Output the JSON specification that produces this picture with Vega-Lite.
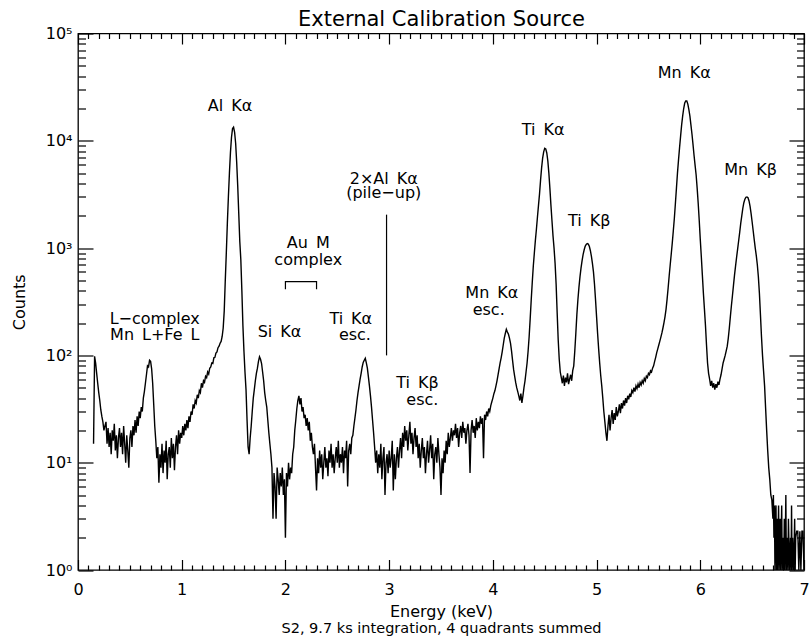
{
  "$schema": "https://vega.github.io/schema/vega-lite/v6.json",
  "width": 726,
  "height": 536.5,
  "autosize": "none",
  "padding": {"left": 78, "top": 33.5, "right": 5, "bottom": 74},
  "background": "white",
  "config": {
    "view": {"stroke": "black", "strokeWidth": 1.3},
    "axis": {"grid": false, "domain": false, "tickColor": "black", "tickWidth": 1.2, "labelColor": "black", "labelFont": "DejaVu Sans", "labelFontSize": 16, "titleFont": "DejaVu Sans", "titleFontSize": 16, "titleFontWeight": "normal", "titleColor": "black", "labelOverlap": false, "labelFlush": false, "labelBound": false}
  },
  "datasets": {
    "spectrum": [
      {"e":0.15,"c":15},{"e":0.16,"c":98},{"e":0.17,"c":85},{"e":0.18,"c":68},{"e":0.19,"c":55},{"e":0.20,"c":45},{"e":0.21,"c":38},{"e":0.22,"c":31},{"e":0.23,"c":27},{"e":0.24,"c":24},
      {"e":0.25,"c":20},{"e":0.26,"c":22},{"e":0.27,"c":24},{"e":0.28,"c":15},{"e":0.29,"c":21},{"e":0.30,"c":14},{"e":0.31,"c":19},{"e":0.32,"c":12},{"e":0.33,"c":20},{"e":0.34,"c":16},
      {"e":0.35,"c":23},{"e":0.36,"c":13},{"e":0.37,"c":18},{"e":0.38,"c":11},{"e":0.39,"c":17},{"e":0.40,"c":21},{"e":0.41,"c":14},{"e":0.42,"c":19},{"e":0.43,"c":12},{"e":0.44,"c":22},
      {"e":0.45,"c":15},{"e":0.46,"c":10},{"e":0.47,"c":18},{"e":0.48,"c":13},{"e":0.49,"c":9},{"e":0.50,"c":17},{"e":0.51,"c":20},{"e":0.52,"c":14},{"e":0.53,"c":22},{"e":0.54,"c":18},
      {"e":0.55,"c":25},{"e":0.56,"c":19},{"e":0.57,"c":27},{"e":0.58,"c":22},{"e":0.59,"c":30},{"e":0.60,"c":26},{"e":0.61,"c":33},{"e":0.62,"c":30},{"e":0.63,"c":40},{"e":0.64,"c":46},
      {"e":0.65,"c":55},{"e":0.66,"c":66},{"e":0.67,"c":80},{"e":0.68,"c":78},{"e":0.69,"c":90},{"e":0.70,"c":88},{"e":0.71,"c":75},{"e":0.72,"c":55},{"e":0.73,"c":35},{"e":0.74,"c":22},
      {"e":0.75,"c":16},{"e":0.76,"c":11},{"e":0.77,"c":14},{"e":0.78,"c":6.5},{"e":0.79,"c":12},{"e":0.80,"c":9},{"e":0.81,"c":15},{"e":0.82,"c":8},{"e":0.83,"c":13},{"e":0.84,"c":10},
      {"e":0.85,"c":16},{"e":0.86,"c":7},{"e":0.87,"c":12},{"e":0.88,"c":14},{"e":0.89,"c":9},{"e":0.90,"c":17},{"e":0.91,"c":11},{"e":0.92,"c":15},{"e":0.93,"c":8.5},{"e":0.94,"c":14},
      {"e":0.95,"c":18},{"e":0.96,"c":12},{"e":0.97,"c":20},{"e":0.98,"c":15},{"e":0.99,"c":19},{"e":1.00,"c":17},{"e":1.01,"c":22},{"e":1.02,"c":18},{"e":1.03,"c":23},{"e":1.04,"c":20},
      {"e":1.05,"c":25},{"e":1.06,"c":21},{"e":1.07,"c":27},{"e":1.08,"c":24},{"e":1.09,"c":30},{"e":1.10,"c":28},{"e":1.11,"c":35},{"e":1.12,"c":32},{"e":1.13,"c":38},{"e":1.14,"c":36},
      {"e":1.15,"c":43},{"e":1.16,"c":40},{"e":1.17,"c":47},{"e":1.18,"c":45},{"e":1.19,"c":55},{"e":1.20,"c":50},{"e":1.21,"c":58},{"e":1.22,"c":56},{"e":1.23,"c":64},{"e":1.24,"c":62},
      {"e":1.25,"c":70},{"e":1.26,"c":67},{"e":1.27,"c":76},{"e":1.28,"c":78},{"e":1.29,"c":85},{"e":1.30,"c":84},{"e":1.31,"c":95},{"e":1.32,"c":96},{"e":1.33,"c":105},{"e":1.34,"c":108},
      {"e":1.35,"c":118},{"e":1.36,"c":122},{"e":1.37,"c":130},{"e":1.38,"c":135},{"e":1.39,"c":150},{"e":1.40,"c":180},{"e":1.41,"c":260},{"e":1.42,"c":500},{"e":1.43,"c":900},{"e":1.44,"c":1700},
      {"e":1.45,"c":3000},{"e":1.46,"c":5000},{"e":1.47,"c":7800},{"e":1.48,"c":10800},{"e":1.49,"c":13000},{"e":1.50,"c":13400},{"e":1.51,"c":12000},{"e":1.52,"c":9500},{"e":1.53,"c":6300},{"e":1.54,"c":3800},
      {"e":1.55,"c":2100},{"e":1.56,"c":1150},{"e":1.57,"c":780},{"e":1.58,"c":400},{"e":1.59,"c":190},{"e":1.60,"c":110},{"e":1.61,"c":70},{"e":1.62,"c":48},{"e":1.63,"c":25},{"e":1.64,"c":14},
      {"e":1.65,"c":12},{"e":1.66,"c":17},{"e":1.67,"c":22},{"e":1.68,"c":30},{"e":1.69,"c":40},{"e":1.70,"c":48},{"e":1.71,"c":58},{"e":1.72,"c":68},{"e":1.73,"c":76},{"e":1.74,"c":88},
      {"e":1.75,"c":97},{"e":1.76,"c":92},{"e":1.77,"c":84},{"e":1.78,"c":70},{"e":1.79,"c":58},{"e":1.80,"c":45},{"e":1.81,"c":38},{"e":1.82,"c":33},{"e":1.83,"c":25},{"e":1.84,"c":19},
      {"e":1.85,"c":15},{"e":1.86,"c":12},{"e":1.87,"c":9},{"e":1.88,"c":3},{"e":1.89,"c":8},{"e":1.90,"c":6},{"e":1.91,"c":3},{"e":1.92,"c":9},{"e":1.93,"c":7},{"e":1.94,"c":5},
      {"e":1.95,"c":8},{"e":1.96,"c":6},{"e":1.97,"c":9},{"e":1.98,"c":5},{"e":1.99,"c":7},{"e":2.00,"c":2},{"e":2.01,"c":8},{"e":2.02,"c":6},{"e":2.03,"c":10},{"e":2.04,"c":7},
      {"e":2.05,"c":9},{"e":2.06,"c":8},{"e":2.07,"c":12},{"e":2.08,"c":14},{"e":2.09,"c":20},{"e":2.10,"c":25},{"e":2.11,"c":32},{"e":2.12,"c":38},{"e":2.13,"c":42},{"e":2.14,"c":35},
      {"e":2.15,"c":40},{"e":2.16,"c":30},{"e":2.17,"c":33},{"e":2.18,"c":26},{"e":2.19,"c":28},{"e":2.20,"c":22},{"e":2.21,"c":26},{"e":2.22,"c":20},{"e":2.23,"c":24},{"e":2.24,"c":16},
      {"e":2.25,"c":19},{"e":2.26,"c":14},{"e":2.27,"c":12},{"e":2.28,"c":15},{"e":2.29,"c":9},{"e":2.30,"c":5.5},{"e":2.31,"c":11},{"e":2.32,"c":8},{"e":2.33,"c":13},{"e":2.34,"c":9},
      {"e":2.35,"c":12},{"e":2.36,"c":7},{"e":2.37,"c":10},{"e":2.38,"c":14},{"e":2.39,"c":9},{"e":2.40,"c":11},{"e":2.41,"c":7.5},{"e":2.42,"c":13},{"e":2.43,"c":10},{"e":2.44,"c":15},
      {"e":2.45,"c":9},{"e":2.46,"c":12},{"e":2.47,"c":8},{"e":2.48,"c":11},{"e":2.49,"c":14},{"e":2.50,"c":10},{"e":2.51,"c":16},{"e":2.52,"c":9},{"e":2.53,"c":12},{"e":2.54,"c":10},
      {"e":2.55,"c":14},{"e":2.56,"c":8},{"e":2.57,"c":13},{"e":2.58,"c":11},{"e":2.59,"c":16},{"e":2.60,"c":6},{"e":2.61,"c":13},{"e":2.62,"c":15},{"e":2.63,"c":12},{"e":2.64,"c":17},
      {"e":2.65,"c":18},{"e":2.66,"c":22},{"e":2.67,"c":26},{"e":2.68,"c":31},{"e":2.69,"c":38},{"e":2.70,"c":45},{"e":2.71,"c":52},{"e":2.72,"c":60},{"e":2.73,"c":68},{"e":2.74,"c":78},
      {"e":2.75,"c":86},{"e":2.76,"c":90},{"e":2.77,"c":94},{"e":2.78,"c":85},{"e":2.79,"c":76},{"e":2.80,"c":63},{"e":2.81,"c":52},{"e":2.82,"c":42},{"e":2.83,"c":33},{"e":2.84,"c":25},
      {"e":2.85,"c":19},{"e":2.86,"c":14},{"e":2.87,"c":10},{"e":2.88,"c":13},{"e":2.89,"c":8},{"e":2.90,"c":12},{"e":2.91,"c":9},{"e":2.92,"c":15},{"e":2.93,"c":7},{"e":2.94,"c":11},
      {"e":2.95,"c":14},{"e":2.96,"c":5},{"e":2.97,"c":10},{"e":2.98,"c":12},{"e":2.99,"c":8},{"e":3.00,"c":13},{"e":3.01,"c":9},{"e":3.02,"c":11},{"e":3.03,"c":16},{"e":3.04,"c":5.5},
      {"e":3.05,"c":12},{"e":3.06,"c":7},{"e":3.07,"c":11},{"e":3.08,"c":14},{"e":3.09,"c":9},{"e":3.10,"c":13},{"e":3.11,"c":17},{"e":3.12,"c":11},{"e":3.13,"c":19},{"e":3.14,"c":14},
      {"e":3.15,"c":22},{"e":3.16,"c":16},{"e":3.17,"c":20},{"e":3.18,"c":13},{"e":3.19,"c":18},{"e":3.20,"c":24},{"e":3.21,"c":15},{"e":3.22,"c":19},{"e":3.23,"c":12},{"e":3.24,"c":17},
      {"e":3.25,"c":21},{"e":3.26,"c":14},{"e":3.27,"c":18},{"e":3.28,"c":11},{"e":3.29,"c":15},{"e":3.30,"c":9},{"e":3.31,"c":13},{"e":3.32,"c":17},{"e":3.33,"c":11},{"e":3.34,"c":14},
      {"e":3.35,"c":8},{"e":3.36,"c":12},{"e":3.37,"c":16},{"e":3.38,"c":10},{"e":3.39,"c":13},{"e":3.40,"c":18},{"e":3.41,"c":11},{"e":3.42,"c":15},{"e":3.43,"c":7},{"e":3.44,"c":12},
      {"e":3.45,"c":14},{"e":3.46,"c":10},{"e":3.47,"c":17},{"e":3.48,"c":12},{"e":3.49,"c":9},{"e":3.50,"c":5},{"e":3.51,"c":11},{"e":3.52,"c":8},{"e":3.53,"c":13},{"e":3.54,"c":10},
      {"e":3.55,"c":16},{"e":3.56,"c":12},{"e":3.57,"c":19},{"e":3.58,"c":14},{"e":3.59,"c":17},{"e":3.60,"c":21},{"e":3.61,"c":16},{"e":3.62,"c":20},{"e":3.63,"c":18},{"e":3.64,"c":23},
      {"e":3.65,"c":17},{"e":3.66,"c":21},{"e":3.67,"c":14},{"e":3.68,"c":19},{"e":3.69,"c":22},{"e":3.70,"c":17},{"e":3.71,"c":24},{"e":3.72,"c":19},{"e":3.73,"c":21},{"e":3.74,"c":15},
      {"e":3.75,"c":20},{"e":3.76,"c":23},{"e":3.77,"c":18},{"e":3.78,"c":8},{"e":3.79,"c":20},{"e":3.80,"c":25},{"e":3.81,"c":19},{"e":3.82,"c":22},{"e":3.83,"c":17},{"e":3.84,"c":26},
      {"e":3.85,"c":20},{"e":3.86,"c":24},{"e":3.87,"c":21},{"e":3.88,"c":27},{"e":3.89,"c":23},{"e":3.90,"c":26},{"e":3.91,"c":11},{"e":3.92,"c":28},{"e":3.93,"c":25},{"e":3.94,"c":30},
      {"e":3.95,"c":27},{"e":3.96,"c":32},{"e":3.97,"c":30},{"e":3.98,"c":34},{"e":3.99,"c":37},{"e":4.00,"c":40},{"e":4.01,"c":44},{"e":4.02,"c":47},{"e":4.03,"c":52},{"e":4.04,"c":58},
      {"e":4.05,"c":66},{"e":4.06,"c":75},{"e":4.07,"c":85},{"e":4.08,"c":95},{"e":4.09,"c":108},{"e":4.10,"c":125},{"e":4.11,"c":145},{"e":4.12,"c":160},{"e":4.13,"c":175},{"e":4.14,"c":165},
      {"e":4.15,"c":158},{"e":4.16,"c":145},{"e":4.17,"c":130},{"e":4.18,"c":110},{"e":4.19,"c":90},{"e":4.20,"c":74},{"e":4.21,"c":64},{"e":4.22,"c":56},{"e":4.23,"c":50},{"e":4.24,"c":46},
      {"e":4.25,"c":42},{"e":4.26,"c":38},{"e":4.27,"c":44},{"e":4.28,"c":36},{"e":4.29,"c":42},{"e":4.30,"c":50},{"e":4.31,"c":58},{"e":4.32,"c":70},{"e":4.33,"c":85},{"e":4.34,"c":110},
      {"e":4.35,"c":150},{"e":4.36,"c":220},{"e":4.37,"c":330},{"e":4.38,"c":480},{"e":4.39,"c":680},{"e":4.40,"c":900},{"e":4.41,"c":1180},{"e":4.42,"c":1500},{"e":4.43,"c":1950},{"e":4.44,"c":2500},
      {"e":4.45,"c":3200},{"e":4.46,"c":4300},{"e":4.47,"c":5600},{"e":4.48,"c":6900},{"e":4.49,"c":7900},{"e":4.50,"c":8500},{"e":4.51,"c":8400},{"e":4.52,"c":7700},{"e":4.53,"c":6500},{"e":4.54,"c":5000},
      {"e":4.55,"c":3600},{"e":4.56,"c":2500},{"e":4.57,"c":1800},{"e":4.58,"c":1300},{"e":4.59,"c":1000},{"e":4.60,"c":720},{"e":4.61,"c":460},{"e":4.62,"c":250},{"e":4.63,"c":140},{"e":4.64,"c":92},
      {"e":4.65,"c":70},{"e":4.66,"c":62},{"e":4.67,"c":55},{"e":4.68,"c":65},{"e":4.69,"c":52},{"e":4.70,"c":62},{"e":4.71,"c":56},{"e":4.72,"c":68},{"e":4.73,"c":54},{"e":4.74,"c":60},
      {"e":4.75,"c":66},{"e":4.76,"c":58},{"e":4.77,"c":72},{"e":4.78,"c":80},{"e":4.79,"c":110},{"e":4.80,"c":160},{"e":4.81,"c":240},{"e":4.82,"c":330},{"e":4.83,"c":430},{"e":4.84,"c":540},
      {"e":4.85,"c":650},{"e":4.86,"c":760},{"e":4.87,"c":870},{"e":4.88,"c":960},{"e":4.89,"c":1040},{"e":4.90,"c":1080},{"e":4.91,"c":1100},{"e":4.92,"c":1090},{"e":4.93,"c":1040},{"e":4.94,"c":950},
      {"e":4.95,"c":840},{"e":4.96,"c":720},{"e":4.97,"c":600},{"e":4.98,"c":460},{"e":4.99,"c":330},{"e":5.00,"c":230},{"e":5.01,"c":160},{"e":5.02,"c":115},{"e":5.03,"c":85},{"e":5.04,"c":65},
      {"e":5.05,"c":52},{"e":5.06,"c":40},{"e":5.07,"c":30},{"e":5.08,"c":24},{"e":5.09,"c":19},{"e":5.10,"c":16},{"e":5.11,"c":22},{"e":5.12,"c":28},{"e":5.13,"c":20},{"e":5.14,"c":26},
      {"e":5.15,"c":31},{"e":5.16,"c":23},{"e":5.17,"c":29},{"e":5.18,"c":25},{"e":5.19,"c":33},{"e":5.20,"c":27},{"e":5.21,"c":30},{"e":5.22,"c":35},{"e":5.23,"c":29},{"e":5.24,"c":36},
      {"e":5.25,"c":32},{"e":5.26,"c":38},{"e":5.27,"c":34},{"e":5.28,"c":40},{"e":5.29,"c":36},{"e":5.30,"c":42},{"e":5.31,"c":39},{"e":5.32,"c":44},{"e":5.33,"c":41},{"e":5.34,"c":47},
      {"e":5.35,"c":45},{"e":5.36,"c":50},{"e":5.37,"c":46},{"e":5.38,"c":52},{"e":5.39,"c":49},{"e":5.40,"c":54},{"e":5.41,"c":50},{"e":5.42,"c":56},{"e":5.43,"c":53},{"e":5.44,"c":58},
      {"e":5.45,"c":55},{"e":5.46,"c":61},{"e":5.47,"c":58},{"e":5.48,"c":64},{"e":5.49,"c":62},{"e":5.50,"c":68},{"e":5.51,"c":66},{"e":5.52,"c":72},{"e":5.53,"c":70},{"e":5.54,"c":76},
      {"e":5.55,"c":80},{"e":5.56,"c":88},{"e":5.57,"c":96},{"e":5.58,"c":106},{"e":5.59,"c":115},{"e":5.60,"c":125},{"e":5.61,"c":136},{"e":5.62,"c":148},{"e":5.63,"c":162},{"e":5.64,"c":180},
      {"e":5.65,"c":202},{"e":5.66,"c":230},{"e":5.67,"c":270},{"e":5.68,"c":335},{"e":5.69,"c":425},{"e":5.70,"c":550},{"e":5.71,"c":700},{"e":5.72,"c":880},{"e":5.73,"c":1120},{"e":5.74,"c":1450},
      {"e":5.75,"c":1900},{"e":5.76,"c":2600},{"e":5.77,"c":3600},{"e":5.78,"c":5000},{"e":5.79,"c":6600},{"e":5.80,"c":8600},{"e":5.81,"c":11000},{"e":5.82,"c":14000},{"e":5.83,"c":17000},{"e":5.84,"c":20000},
      {"e":5.85,"c":22500},{"e":5.86,"c":23500},{"e":5.87,"c":23500},{"e":5.88,"c":22000},{"e":5.89,"c":19500},{"e":5.90,"c":17000},{"e":5.91,"c":14000},{"e":5.92,"c":11500},{"e":5.93,"c":9200},{"e":5.94,"c":7300},
      {"e":5.95,"c":5900},{"e":5.96,"c":4800},{"e":5.97,"c":3600},{"e":5.98,"c":2600},{"e":5.99,"c":1800},{"e":6.00,"c":1200},{"e":6.01,"c":830},{"e":6.02,"c":560},{"e":6.03,"c":380},{"e":6.04,"c":270},
      {"e":6.05,"c":190},{"e":6.06,"c":125},{"e":6.07,"c":85},{"e":6.08,"c":68},{"e":6.09,"c":60},{"e":6.10,"c":52},{"e":6.11,"c":58},{"e":6.12,"c":50},{"e":6.13,"c":55},{"e":6.14,"c":48},
      {"e":6.15,"c":54},{"e":6.16,"c":50},{"e":6.17,"c":57},{"e":6.18,"c":53},{"e":6.19,"c":60},{"e":6.20,"c":66},{"e":6.21,"c":75},{"e":6.22,"c":85},{"e":6.23,"c":92},{"e":6.24,"c":100},
      {"e":6.25,"c":110},{"e":6.26,"c":122},{"e":6.27,"c":145},{"e":6.28,"c":180},{"e":6.29,"c":230},{"e":6.30,"c":290},{"e":6.31,"c":360},{"e":6.32,"c":450},{"e":6.33,"c":560},{"e":6.34,"c":680},
      {"e":6.35,"c":820},{"e":6.36,"c":980},{"e":6.37,"c":1170},{"e":6.38,"c":1400},{"e":6.39,"c":1700},{"e":6.40,"c":2000},{"e":6.41,"c":2350},{"e":6.42,"c":2650},{"e":6.43,"c":2850},{"e":6.44,"c":2980},
      {"e":6.45,"c":3000},{"e":6.46,"c":2950},{"e":6.47,"c":2750},{"e":6.48,"c":2450},{"e":6.49,"c":2100},{"e":6.50,"c":1750},{"e":6.51,"c":1450},{"e":6.52,"c":1200},{"e":6.53,"c":1000},{"e":6.54,"c":850},
      {"e":6.55,"c":700},{"e":6.56,"c":540},{"e":6.57,"c":380},{"e":6.58,"c":240},{"e":6.59,"c":150},{"e":6.60,"c":100},{"e":6.61,"c":72},{"e":6.62,"c":52},{"e":6.63,"c":32},{"e":6.64,"c":20},
      {"e":6.65,"c":13},{"e":6.66,"c":9},{"e":6.67,"c":7},{"e":6.68,"c":5},{"e":6.69,"c":4.5},{"e":6.70,"c":3},{"e":6.705,"c":5},{"e":6.71,"c":2},{"e":6.715,"c":4},{"e":6.72,"c":1},
      {"e":6.725,"c":3},{"e":6.73,"c":4},{"e":6.735,"c":1},{"e":6.74,"c":3},{"e":6.745,"c":1},{"e":6.75,"c":2},{"e":6.755,"c":4},{"e":6.76,"c":1},{"e":6.77,"c":3},{"e":6.775,"c":1},
      {"e":6.78,"c":2},{"e":6.785,"c":4},{"e":6.79,"c":1},{"e":6.80,"c":2},{"e":6.805,"c":1},{"e":6.81,"c":3},{"e":6.815,"c":1},{"e":6.82,"c":2},{"e":6.825,"c":5},{"e":6.83,"c":1},
      {"e":6.84,"c":2},{"e":6.845,"c":1},{"e":6.85,"c":3},{"e":6.86,"c":1},{"e":6.87,"c":2},{"e":6.875,"c":1},{"e":6.88,"c":4},{"e":6.885,"c":1},{"e":6.89,"c":2},{"e":6.90,"c":1},
      {"e":6.91,"c":3},{"e":6.915,"c":1},{"e":6.92,"c":2},{"e":6.93,"c":2.3},{"e":6.94,"c":2.3},{"e":6.95,"c":1},{"e":6.96,"c":2.3},{"e":6.97,"c":1},{"e":6.98,"c":2.3},{"e":6.99,"c":2.3},
      {"e":7.0,"c":1}
    ],
    "labels": [
      {"label":"Al\u2002K\u03b1","e":1.466,"c":19000},
      {"label":"Ti\u2002K\u03b1","e":4.484,"c":11300},
      {"label":"Ti\u2002K\u03b2","e":4.93,"c":1610},
      {"label":"Mn\u2002K\u03b1","e":5.845,"c":38200},
      {"label":"Mn\u2002K\u03b2","e":6.485,"c":4800},
      {"label":"L\u2212complex","e":0.74,"c":196},
      {"label":"Mn\u2002L+Fe\u2002L","e":0.74,"c":139},
      {"label":"Si\u2002K\u03b1","e":1.943,"c":149},
      {"label":"Au\u2002M","e":2.22,"c":992},
      {"label":"complex","e":2.22,"c":695},
      {"label":"Ti\u2002K\u03b1","e":2.63,"c":196},
      {"label":"esc.","e":2.67,"c":139},
      {"label":"2\u00d7Al\u2002K\u03b1","e":2.948,"c":3970},
      {"label":"(pile\u2212up)","e":2.948,"c":2920},
      {"label":"Ti\u2002K\u03b2","e":3.274,"c":49.7},
      {"label":"esc.","e":3.32,"c":34.5},
      {"label":"Mn\u2002K\u03b1","e":3.99,"c":340},
      {"label":"esc.","e":3.96,"c":238}
    ],
    "bracket": [
      {"e":2.0,"c":413,"o":0},{"e":2.0,"c":486,"o":1},{"e":2.3,"c":486,"o":2},{"e":2.3,"c":413,"o":3}
    ],
    "pileup": [
      {"e":2.975,"c0":100,"c1":2050}
    ]
  },
  "layer": [
    {
      "data": {"name": "spectrum"},
      "mark": {"type": "line", "color": "black", "strokeWidth": 1.4, "clip": true},
      "encoding": {
        "x": {"field": "e", "type": "quantitative", "scale": {"domain": [0, 7], "nice": false, "zero": false},
          "axis": {"orient": "bottom", "values": [0,0.1,0.2,0.3,0.4,0.5,0.6,0.7,0.8,0.9,1,1.1,1.2,1.3,1.4,1.5,1.6,1.7,1.8,1.9,2,2.1,2.2,2.3,2.4,2.5,2.6,2.7,2.8,2.9,3,3.1,3.2,3.3,3.4,3.5,3.6,3.7,3.8,3.9,4,4.1,4.2,4.3,4.4,4.5,4.6,4.7,4.8,4.9,5,5.1,5.2,5.3,5.4,5.5,5.6,5.7,5.8,5.9,6,6.1,6.2,6.3,6.4,6.5,6.6,6.7,6.8,6.9,7],
            "labelExpr": "datum.value % 1 === 0 ? format(datum.value, 'd') : ''",
            "tickSize": {"condition": {"test": "datum.value % 1 === 0", "value": -10.5}, "value": -5},
            "labelPadding": 22, "title": "Energy (keV)", "titlePadding": 0}},
        "y": {"field": "c", "type": "quantitative", "scale": {"type": "log", "domain": [1, 100000], "nice": false},
          "axis": {"orient": "left", "values": [1,2,3,4,5,6,7,8,9,10,20,30,40,50,60,70,80,90,100,200,300,400,500,600,700,800,900,1000,2000,3000,4000,5000,6000,7000,8000,9000,10000,20000,30000,40000,50000,60000,70000,80000,90000,100000],
            "labelExpr": "indexof([1,10,100,1000,10000,100000], datum.value) >= 0 ? '10' + ['\u2070','\u00b9','\u00b2','\u00b3','\u2074','\u2075'][round(log(datum.value)/LN10)] : ''",
            "tickSize": {"condition": {"test": "indexof([1,10,100,1000,10000,100000], datum.value) >= 0", "value": -15}, "value": -7.5},
            "labelPadding": 21, "title": "Counts", "titlePadding": 18}}
      }
    },
    {
      "data": {"name": "pileup"},
      "mark": {"type": "rule", "color": "black", "strokeWidth": 1.2},
      "encoding": {
        "x": {"field": "e", "type": "quantitative",
          "axis": {"orient": "top", "values": [0,0.1,0.2,0.3,0.4,0.5,0.6,0.7,0.8,0.9,1,1.1,1.2,1.3,1.4,1.5,1.6,1.7,1.8,1.9,2,2.1,2.2,2.3,2.4,2.5,2.6,2.7,2.8,2.9,3,3.1,3.2,3.3,3.4,3.5,3.6,3.7,3.8,3.9,4,4.1,4.2,4.3,4.4,4.5,4.6,4.7,4.8,4.9,5,5.1,5.2,5.3,5.4,5.5,5.6,5.7,5.8,5.9,6,6.1,6.2,6.3,6.4,6.5,6.6,6.7,6.8,6.9,7],
            "labels": false,
            "title": "External Calibration Source", "titleFontSize": 21, "titleBaseline": "alphabetic", "titlePadding": 7.5,
            "tickSize": {"condition": {"test": "datum.value % 1 === 0", "value": -10.5}, "value": -5}}},
        "y": {"field": "c0", "type": "quantitative",
          "axis": {"orient": "right", "values": [1,2,3,4,5,6,7,8,9,10,20,30,40,50,60,70,80,90,100,200,300,400,500,600,700,800,900,1000,2000,3000,4000,5000,6000,7000,8000,9000,10000,20000,30000,40000,50000,60000,70000,80000,90000,100000],
            "labels": false, "title": null,
            "tickSize": {"condition": {"test": "indexof([1,10,100,1000,10000,100000], datum.value) >= 0", "value": -15}, "value": -7.5}}},
        "y2": {"field": "c1"}
      }
    },
    {
      "data": {"name": "bracket"},
      "mark": {"type": "line", "color": "black", "strokeWidth": 1.2},
      "encoding": {
        "x": {"field": "e", "type": "quantitative",
          "axis": {"orient": "bottom", "ticks": false, "labels": false, "domain": false, "tickSize": 0,
            "title": "S2, 9.7 ks integration, 4 quadrants summed", "titleFontSize": 14.5, "titlePadding": 51}},
        "y": {"field": "c", "type": "quantitative", "axis": null},
        "order": {"field": "o", "type": "quantitative"}
      }
    },
    {
      "data": {"name": "labels"},
      "mark": {"type": "text", "font": "DejaVu Sans", "fontSize": 16, "color": "black", "align": "center", "baseline": "alphabetic"},
      "encoding": {
        "x": {"field": "e", "type": "quantitative", "axis": null},
        "y": {"field": "c", "type": "quantitative", "axis": null},
        "text": {"field": "label"}
      }
    }
  ],
  "resolve": {"axis": {"x": "independent", "y": "independent"}}
}
